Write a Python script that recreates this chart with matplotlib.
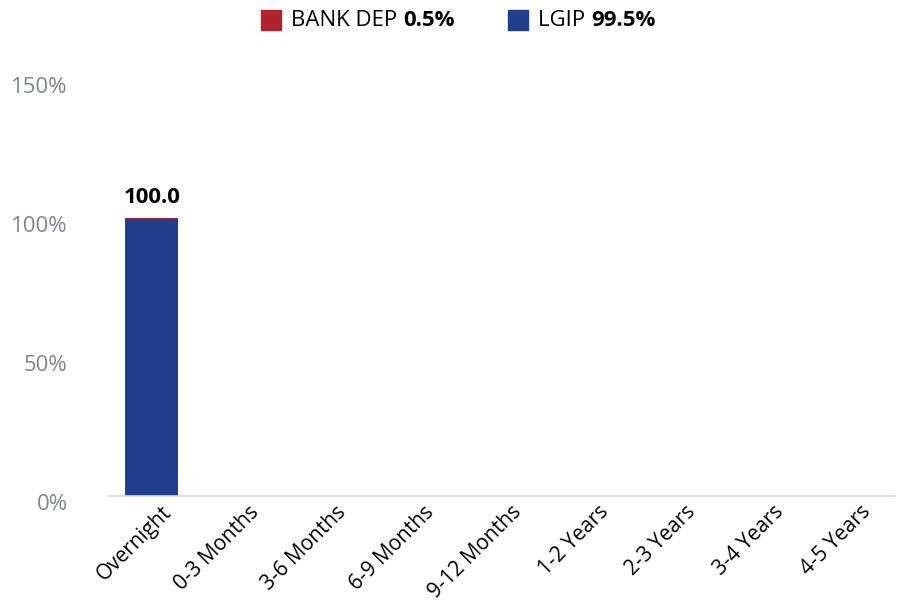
import matplotlib
matplotlib.use("Agg")
import matplotlib.pyplot as plt
import matplotlib.transforms as mtransforms
from matplotlib.patches import Rectangle

plt.rcParams['font.family'] = ['Open Sans', 'DejaVu Sans']

categories = ["Overnight", "0-3 Months", "3-6 Months", "6-9 Months", "9-12 Months",
              "1-2 Years", "2-3 Years", "3-4 Years", "4-5 Years"]
lgip = [99.5, 0, 0, 0, 0, 0, 0, 0, 0]
bank_dep = [0.5, 0, 0, 0, 0, 0, 0, 0, 0]
totals_labels = ["100.0", "", "", "", "", "", "", "", ""]
series_names = ["BANK DEP", "LGIP"]
series_pcts = ["0.5%", "99.5%"]
yticks = [0, 50, 100, 150]
ytick_labels = ["0%", "50%", "100%", "150%"]

red = "#AF232D"
blue = "#233E8A"

fig = plt.figure(figsize=(8.97, 6.05), dpi=100)
ax = fig.add_axes([0.1204, 0.1802, 0.8774, 0.6892])

x = list(range(len(categories)))
ax.bar(x, lgip, width=0.6, color=blue, zorder=2)
# bank dep drawn with minimum visible height like the reference
ax.bar(x, [max(b, 1.0) if b > 0 else 0 for b in bank_dep], bottom=[l - 0.5 for l in lgip],
       width=0.6, color=red, zorder=1)

for xi, lab, l, b in zip(x, totals_labels, lgip, bank_dep):
    if lab:
        ax.text(xi, l + b + 3.5, lab, ha='center', va='bottom', fontsize=16,
                fontweight='bold', color='black')

ax.set_xlim(-0.5, len(categories) - 0.5)
ax.set_ylim(0, 150)
ax.set_yticks(yticks)
ax.set_yticklabels(ytick_labels, fontsize=16, color="#7F8690")
ax.tick_params(axis='y', length=0, pad=29)
offset = mtransforms.ScaledTranslation(0, -6 / 100, fig.dpi_scale_trans)
for t in ax.get_yticklabels():
    t.set_transform(t.get_transform() + offset)
    t.set_horizontalalignment('right')

ax.set_xticks(x)
ax.set_xticklabels(categories, rotation=45, ha='right', rotation_mode='anchor',
                   fontsize=15, color='black')
ax.tick_params(axis='x', length=0, pad=4)
xoff = mtransforms.ScaledTranslation(9 / 100, 0, fig.dpi_scale_trans)
for t in ax.get_xticklabels():
    t.set_transform(t.get_transform() + xoff)

for s in ['top', 'right', 'left']:
    ax.spines[s].set_visible(False)
ax.spines['bottom'].set_color('#D9D9D9')
ax.spines['bottom'].set_linewidth(1.2)

# Legend drawn manually (normal name + bold percent)
W, H = 897, 605
fig.canvas.draw()
renderer = fig.canvas.get_renderer()
legend_items = [(261, red), (508, blue)]
for (px, col), name, pct in zip(legend_items, series_names, series_pcts):
    fig.add_artist(Rectangle((px / W, 1 - 30 / H), 20 / W, 20 / H,
                             transform=fig.transFigure, color=col))
    t1 = fig.text((px + 30) / W, 1 - 20 / H, name + " ", fontsize=16,
                  va='center', ha='left', color='black')
    bb = t1.get_window_extent(renderer)
    fig.text(bb.x1 / W, 1 - 20 / H, pct, fontsize=16, fontweight='bold',
             va='center', ha='left', color='black')

fig.savefig("out.png", dpi=100)
